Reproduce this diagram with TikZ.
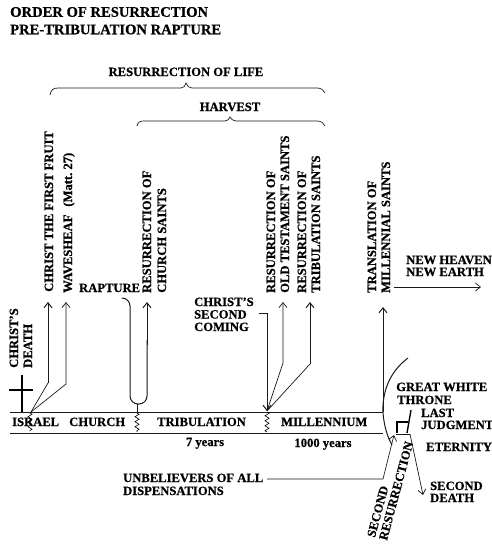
\documentclass[tikz,border=0pt]{standalone}
\usepackage{fontspec}
\setmainfont[BoldFeatures={FakeBold=0.6}]{Liberation Serif}
\usetikzlibrary{arrows.meta,decorations.pathmorphing}
\tikzset{
  lab/.style={font=\bfseries\fontsize{12.6}{14}\selectfont,inner sep=0pt,text height=8pt,text depth=0pt,anchor=west},
  ttl/.style={lab,font=\bfseries\fontsize{14.6}{16}\selectfont,text height=9.5pt},
  up/.style={lab,rotate=90},
  conn/.style={line width=0.7pt,draw=black!90},
  arrowline/.style={conn,-{Straight Barb[length=5pt,width=8pt]}},
  heavy/.style={line width=1pt},
  wavy/.style={line width=0.6pt,decorate,decoration={zigzag,segment length=5pt,amplitude=2pt}}
}
\begin{document}
\begin{tikzpicture}[x=1pt,y=-1pt]
\useasboundingbox (0,0) rectangle (491,544);
\fill[white] (0,0) rectangle (491,544);
% titles
\node[ttl] (t1) at (10,12) {ORDER OF RESURRECTION};
\node[ttl] (t2) at (10,29.5) {PRE-TRIBULATION RAPTURE};
\node[lab,anchor=center] (life) at (186,72) {RESURRECTION OF LIFE};
\node[lab,anchor=center] (harv) at (230,107) {HARVEST};
% braces
\draw[conn] (50,95) .. controls (51,90) and (53,88) .. (58,88) -- (181,88) .. controls (184,88) and (185,86) .. (186,83) .. controls (187,86) and (189,88) .. (192,88) -- (317,88) .. controls (321,88) and (324,90) .. (325,93);
\draw[conn] (137,126) .. controls (138,122) and (140,121) .. (144,121) -- (225,121) .. controls (228,121) and (229,119) .. (230,117) .. controls (231,119) and (233,121) .. (236,121) -- (317,121) .. controls (321,121) and (324,123) .. (325,126);
% vertical labels
\node[up] (cff) at (49,292) {CHRIST THE FIRST FRUIT};
\node[up] (wave) at (68,293) {WAVESHEAF\hspace{8pt}(Matt.\ 27)};
\node[up] (rcs1) at (147,293) {RESURRECTION OF};
\node[up] (rcs2) at (162,293) {CHURCH SAINTS};
\node[up] (rot1) at (271,293) {RESURRECTION OF};
\node[up] (rot2) at (285,293) {OLD TESTAMENT SAINTS};
\node[up] (rts1) at (302,293) {RESURRECTION OF};
\node[up] (rts2) at (316,293) {TRIBULATION SAINTS};
\node[up] (tms1) at (372,293) {TRANSLATION OF};
\node[up] (tms2) at (386,293) {MILLENNIAL SAINTS};
\node[up] (cd1) at (14,368) {CHRIST'S};
\node[up] (cd2) at (28,368) {DEATH};
% horizontal labels
\node[lab] (rapt) at (79,288) {RAPTURE};
\node[lab] (csc1) at (194,302) {CHRIST'S};
\node[lab] (csc2) at (194,314.5) {SECOND};
\node[lab] (csc3) at (194,327) {COMING};
\node[lab] (nh) at (406,260) {NEW HEAVEN};
\node[lab] (ne) at (406,272) {NEW EARTH};
\node[lab] (isr) at (12,422) {ISRAEL};
\node[lab] (chu) at (69,422) {CHURCH};
\node[lab] (tri) at (157,422) {TRIBULATION};
\node[lab] (mil) at (281,422) {MILLENNIUM};
\node[lab,anchor=center] (y7) at (205,442) {7 years};
\node[lab,anchor=center] (y1000) at (323,443) {1000 years};
\node[lab] (unb1) at (123,478) {UNBELIEVERS OF ALL};
\node[lab] (unb2) at (123,491) {DISPENSATIONS};
\node[lab] (gwt1) at (396,387) {GREAT WHITE};
\node[lab] (gwt2) at (397,400) {THRONE};
\node[lab] (lj1) at (421,413) {LAST};
\node[lab] (lj2) at (421,425) {JUDGMENT};
\node[lab] (et) at (426,447) {ETERNITY};
\node[lab] (sd1) at (430,486) {SECOND};
\node[lab] (sd2) at (430,498) {DEATH};
\node[lab,rotate=75] (sr1) at (371,537) {SECOND};
\node[lab,rotate=75] (sr2) at (383,540) {RESURRECTION};
% coordinates
\coordinate (o) at (31,412);
\coordinate (cffB) at (48,383);
\coordinate (waveB) at (66,384);
\coordinate (cffT) at (48,302);
\coordinate (waveT) at (66,302);
\coordinate (sc) at (267,411);
\coordinate (rotB) at (283,363);
\coordinate (rotT) at (283,302);
\coordinate (rtsB) at (310,364);
\coordinate (rtsT) at (310,302);
% time band
\coordinate (bl) at (10,412); \coordinate (br) at (383,412);
\coordinate (cl) at (10,433); \coordinate (cr) at (383,433);
\draw[conn,heavy] (bl) -- (br);
\draw[conn,heavy] (cl) -- (cr);
% cross
\draw[line width=1.5pt] (22,375) -- (22,412);
\draw[line width=1.5pt] (9,390) -- (33,390);
% first fruits
\draw[conn] (o) -- (cffB);
\draw[arrowline,heavy] (cffB) -- (cffT);
\draw[arrowline] (o) -- (waveB) -- (waveT);
% rapture U
\draw[conn,heavy,rounded corners=8pt] (122,298) -- (130,298) -- (130,404) -- (147,404) -- (147,340);
\draw[arrowline,heavy] (147,345) -- (147,302);
% zigzags
\draw[conn] (137,404) -- (137,413);
\draw[wavy] (30,413) -- (30,431);
\draw[wavy] (137,413) -- (137,432);
\draw[wavy] (267,412) -- (267,432);
% second coming
\draw[arrowline,heavy] (259,313) -- (267,313) -- (sc);
\draw[arrowline] (sc) -- (rotB) -- (rotT);
\draw[conn] (sc) -- (rtsB);
\draw[arrowline,heavy] (rtsB) -- (rtsT);
% translation
\draw[arrowline,heavy] (br) -- (383,307);
\draw[arrowline] (394,287) -- (481,287);
% arc
\draw[conn,heavy] (408,358) .. controls (389,372) and (382,393) .. (383,413) .. controls (384,425) and (387,436) .. (392,445);
% throne
\draw[line width=1.4pt] (397,433) -- (397,422) -- (408,422);
\draw[line width=1.4pt] (407,433) -- (411,410);
\draw[conn,heavy] (396,434) -- (410,434);
% unbelievers
\draw[arrowline] (267,479) -- (383,479) -- (394,435);
% second death
\draw[arrowline] (410,434) -- (423,495);
\end{tikzpicture}
\end{document}
